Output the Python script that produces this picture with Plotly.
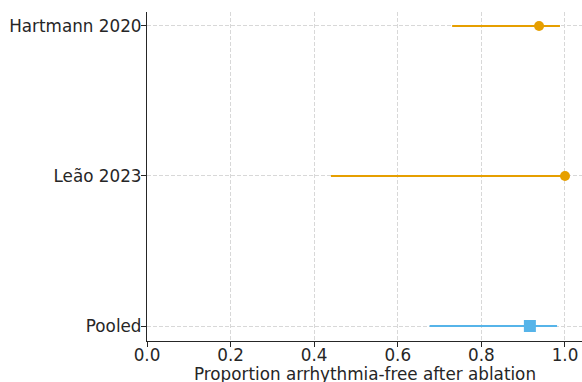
import plotly.graph_objects as go

studies = ["Hartmann 2020", "Leão 2023"]
study_est = [0.938, 1.0]
study_lo = [0.73, 0.44]
study_hi = [0.988, 1.0]

pooled_label = ["Pooled"]
pooled_est = [0.916]
pooled_lo = [0.676]
pooled_hi = [0.981]

x_ticks = [0.0, 0.2, 0.4, 0.6, 0.8, 1.0]
x_ticklabels = ["0.0", "0.2", "0.4", "0.6", "0.8", "1.0"]
x_title = "Proportion arrhythmia-free after ablation"

orange = "#E69F00"
blue = "#56B4E9"
font = "DejaVu Sans"
txt = "#262626"

fig = go.Figure()
fig.add_trace(go.Scatter(
    x=study_est, y=studies, mode="markers",
    marker=dict(symbol="circle", size=10, color=orange),
    error_x=dict(type="data", symmetric=False,
                 array=[h - e for h, e in zip(study_hi, study_est)],
                 arrayminus=[e - l for e, l in zip(study_est, study_lo)],
                 color=orange, thickness=2, width=0),
    showlegend=False, cliponaxis=False,
))
fig.add_trace(go.Scatter(
    x=pooled_est, y=pooled_label, mode="markers",
    marker=dict(symbol="square", size=12, color=blue),
    error_x=dict(type="data", symmetric=False,
                 array=[h - e for h, e in zip(pooled_hi, pooled_est)],
                 arrayminus=[e - l for e, l in zip(pooled_est, pooled_lo)],
                 color=blue, thickness=2, width=0),
    showlegend=False, cliponaxis=False,
))

fig.update_layout(
    width=582, height=382,
    margin=dict(l=147, r=0, t=12, b=41, pad=0),
    paper_bgcolor="white", plot_bgcolor="white",
    font=dict(family=font, size=16.8, color=txt),
)
fig.add_annotation(
    text=x_title, xref="paper", yref="paper", x=0.5, y=0,
    xanchor="center", yanchor="top", yshift=-21, showarrow=False,
    font=dict(family=font, size=16.8, color=txt),
)
fig.update_xaxes(
    range=[0, 1.0407], tickvals=x_ticks, ticktext=x_ticklabels,
    showline=True, linecolor=txt, linewidth=1.2,
    ticks="outside", ticklen=5, tickcolor=txt, tickwidth=1,
    showgrid=True, gridcolor="#d8d8d8", griddash="4px,2px", gridwidth=1,
    zeroline=False, mirror=False, ticklabelstandoff=-6,
    automargin=False,
)
fig.update_yaxes(
    type="category", categoryorder="array",
    categoryarray=["Pooled", "Leão 2023", "Hartmann 2020"],
    range=[-0.1, 2.093],
    showline=True, linecolor=txt, linewidth=1.2,
    ticks="outside", ticklen=5, tickcolor=txt, tickwidth=1,
    showgrid=True, gridcolor="#d8d8d8", griddash="4px,2px", gridwidth=1,
    zeroline=False, automargin=False, ticklabelstandoff=-4,
)

fig.write_html("out.html", config={"displayModeBar": False},
               post_script="document.body.style.margin='0';document.body.style.padding='0';")
